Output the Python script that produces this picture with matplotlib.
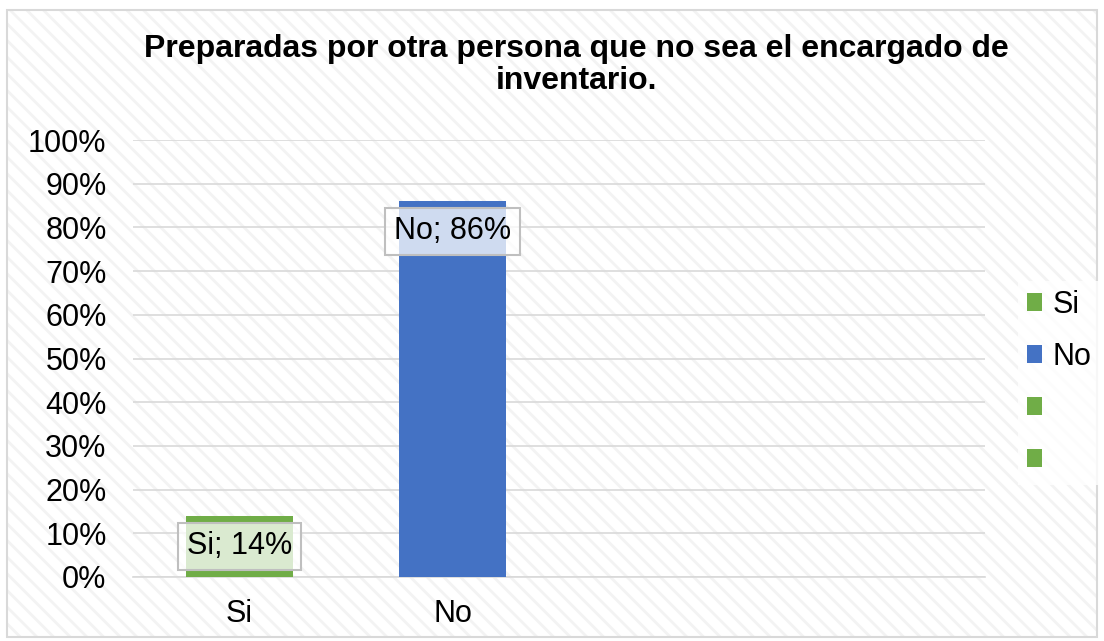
import matplotlib
matplotlib.use("Agg")
import matplotlib.pyplot as plt
from matplotlib.patches import Rectangle, Patch

# Data
categories = ["Si", "No"]
values = [14, 86]
bar_colors = ["#70AD47", "#4472C4"]
legend_labels = ["Si", "No", " ", " "]
legend_colors = ["#70AD47", "#4472C4", "#70AD47", "#70AD47"]
yticks = list(range(0, 101, 10))
title = "Preparadas por otra persona que no sea el encargado de\ninventario."

plt.rcParams["font.family"] = ["Liberation Sans", "DejaVu Sans"]
plt.rcParams["hatch.linewidth"] = 2.0

W, H = 1104, 641
fig = plt.figure(figsize=(W / 100, H / 100), dpi=100)
fig.patch.set_facecolor("white")

# patterned chart background
bg = Rectangle((7 / W, 1 - 637 / H), (1097 - 7) / W, (637 - 10) / H,
               transform=fig.transFigure, facecolor="white",
               edgecolor="#f3f3f3", hatch="\\\\", linewidth=0, zorder=-10)
fig.patches.append(bg)
border = Rectangle((7 / W, 1 - 637 / H), (1097 - 7) / W, (637 - 10) / H,
                   transform=fig.transFigure, facecolor="none",
                   edgecolor="#d9d9d9", linewidth=1.5, zorder=-9)
fig.patches.append(border)

left, right = 133 / W, 985 / W
bottom, top = 1 - 577 / H, 1 - 140 / H
ax = fig.add_axes([left, bottom, right - left, top - bottom])
ax.patch.set_alpha(0)

x = list(range(len(categories)))
ax.bar(x, values, width=0.5, color=bar_colors, zorder=3)
ax.set_xlim(-0.5, 3.5)
ax.set_ylim(0, 100)
ax.set_yticks(yticks)
ax.set_yticklabels([f"{v}%" for v in yticks], fontsize=22)
ax.set_xticks(x)
ax.set_xticklabels(categories, fontsize=22)
ax.tick_params(axis="both", length=0, colors="black")
ax.tick_params(axis="y", pad=19)
ax.tick_params(axis="x", pad=16)
for s in ["top", "right", "left"]:
    ax.spines[s].set_visible(False)
ax.spines["bottom"].set_color("#d9d9d9")
ax.spines["bottom"].set_linewidth(1.2)
ax.yaxis.grid(True, color="#d9d9d9", linewidth=1.2, zorder=0)
ax.set_axisbelow(True)

for xi, cat, v in zip(x, categories, values):
    ax.annotate(f"{cat}; {v}%", xy=(xi, v), xytext=(0, -11),
                textcoords="offset points", ha="center", va="top",
                fontsize=22, zorder=5,
                bbox=dict(boxstyle="square,pad=0.28", facecolor=(1, 1, 1, 0.75),
                          edgecolor="#bfbfbf", linewidth=1.5))

fig.text(576 / W, 1 - 65 / H, title, ha="center", va="center",
         fontsize=23, fontweight="bold", linespacing=1.12)

handles = [Patch(facecolor=c, edgecolor="none") for c in legend_colors]
leg = fig.legend(handles, legend_labels, loc="center left",
                 bbox_to_anchor=(1018 / W, 1 - 383 / H), fontsize=22,
                 handlelength=0.5, handleheight=0.5, handletextpad=0.33,
                 labelspacing=0.72, borderpad=0.3, borderaxespad=0,
                 frameon=True, fancybox=False)
leg.get_frame().set_facecolor((1, 1, 1, 0.4))
leg.get_frame().set_edgecolor("none")

fig.savefig("out.png", dpi=100)
